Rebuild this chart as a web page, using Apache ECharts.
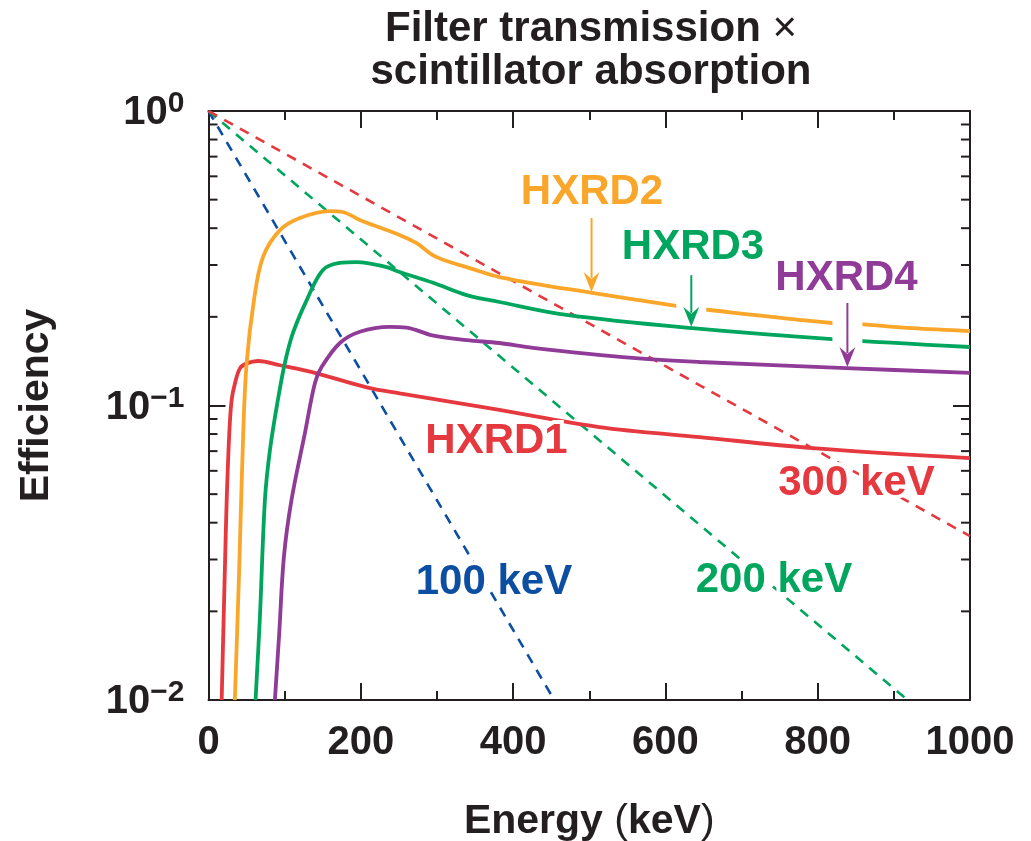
<!DOCTYPE html>
<html>
<head>
<meta charset="utf-8">
<title>Filter transmission × scintillator absorption</title>
<script src="https://cdn.jsdelivr.net/npm/echarts@6/dist/echarts.min.js"></script>
<style>
  html, body { margin: 0; padding: 0; background: #ffffff; }
  #chart { width: 1031px; height: 841px; }
</style>
</head>
<body>
<div id="chart"></div>
<script>
// ---- data: energy (keV) vs efficiency ----
const energyTicks = [0, 200, 400, 600, 800, 1000];
const decadeTicks = [0.01, 0.1, 1];
const yMinorTicks = [0.02, 0.03, 0.04, 0.05, 0.06, 0.07, 0.08, 0.09,
                     0.2, 0.3, 0.4, 0.5, 0.6, 0.7, 0.8, 0.9];

// Filter transmission x scintillator absorption for each unit
const hxrd1 = [[17.3, 0.01], [19.4, 0.0168], [21.6, 0.0284], [23.9, 0.0478], [27.3, 0.0805],
  [30.4, 0.1045], [34.8, 0.119], [41.3, 0.1337], [50.1, 0.139], [65.3, 0.1416],
  [93.8, 0.137], [142, 0.1286], [207.5, 0.1153], [251, 0.110], [382, 0.0966],
  [513, 0.0845], [645, 0.0781], [793, 0.0717], [1000, 0.0663]];

const hxrd2 = [[34.6, 0.01], [40.4, 0.0283], [45.6, 0.0806], [50.1, 0.1394], [59.7, 0.228],
  [71.5, 0.319], [93.8, 0.394], [120, 0.433], [159, 0.457], [176, 0.454],
  [198.7, 0.4265], [215.7, 0.410], [251, 0.379], [273.4, 0.356], [294.5, 0.324],
  [316.7, 0.307], [339, 0.295], [382, 0.273], [504, 0.241], [614, 0.218],
  [658, 0.211], [819, 0.1906], [854, 0.189], [924, 0.183], [1000, 0.179]];

const hxrd3 = [[61.8, 0.01], [67.5, 0.0191], [74.1, 0.0478], [80.7, 0.0706], [91.1, 0.1044],
  [100.3, 0.1394], [110.8, 0.176], [129, 0.228], [150, 0.288], [172, 0.305],
  [195, 0.307], [234, 0.295], [251, 0.284], [295, 0.261], [339, 0.237],
  [382, 0.2246], [470, 0.203], [635, 0.183], [819, 0.168], [1000, 0.158]];

const hxrd4 = [[87.2, 0.01], [92.9, 0.0169], [99, 0.0306], [109, 0.0478], [126.6, 0.0806],
  [139.7, 0.119], [148.5, 0.135], [172.5, 0.163], [198.7, 0.178], [238, 0.185],
  [260, 0.184], [294, 0.173], [339, 0.1668], [382, 0.163], [426, 0.157],
  [557, 0.145], [645, 0.1405], [837, 0.134], [1000, 0.129]];

// Transmission through a filter at fixed photon energies (straight on a log scale)
const atten100 = [[0, 1], [454, 0.01]];
const atten200 = [[0, 1], [918, 0.01]];
const atten300 = [[0, 1], [1000, 0.036]];

// Pointer arrows: energy, top of shaft, tip (efficiency), unit index
const arrowRows = [[503, 0.433, 0.243, 1], [634, 0.277, 0.185, 2], [839, 0.223, 0.135, 3]];

// ---- styling ----
const INK = '#231f20';
const FONT = "'Liberation Sans', Arial, Helvetica, sans-serif";
const COLORS = ['#e5383f', '#f9a62a', '#00a65d', '#8f3b97', '#0b4ea2'];

const chart = echarts.init(document.getElementById('chart'), null, { renderer: 'canvas' });

const gridBox = { left: 208.5, right: 61, top: 111, bottom: 141 };

function xAxisDef(pos) {
  const bottom = pos === 'bottom';
  return {
    type: 'value', position: pos, min: energyTicks[0], max: energyTicks[energyTicks.length - 1],
    interval: energyTicks[1] - energyTicks[0],
    axisLine: { show: true, onZero: false, lineStyle: { color: INK, width: 2 } },
    axisTick: { show: true, inside: true, length: 17, lineStyle: { color: INK, width: 2 } },
    minorTick: { show: true, splitNumber: 2, length: 9, lineStyle: { color: INK, width: 2 } },
    splitLine: { show: false },
    minorSplitLine: { show: false },
    axisLabel: {
      show: bottom, margin: 23, color: INK, fontFamily: FONT, fontSize: 40, fontWeight: 'bold',
      showMinLabel: true, showMaxLabel: true,
      formatter: function (v) { return String(v); }
    },
    name: bottom ? '{b|Energy }{p|(}{b|keV}{p|)}' : '',
    nameLocation: 'middle', nameGap: 101,
    nameTextStyle: {
      rich: {
        b: { fontFamily: FONT, fontSize: 41, fontWeight: 'bold', color: INK },
        p: { fontFamily: FONT, fontSize: 41, fontWeight: 'normal', color: INK }
      }
    }
  };
}

function yAxisDef(pos) {
  const left = pos === 'left';
  return {
    type: 'log', logBase: 10, position: pos, min: decadeTicks[0], max: decadeTicks[decadeTicks.length - 1],
    axisLine: { show: true, onZero: false, lineStyle: { color: INK, width: 2 } },
    axisTick: { show: true, inside: true, length: 17, lineStyle: { color: INK, width: 2 } },
    minorTick: { show: false },
    splitLine: { show: false },
    axisLabel: {
      show: left, margin: 24, showMinLabel: true, showMaxLabel: true,
      formatter: function (v) {
        const e = Math.round(Math.log10(v));
        return '{b|10}{s|' + (e < 0 ? '\u2212' + (-e) : String(e)) + '}';
      },
      rich: {
        b: { fontFamily: FONT, fontSize: 40, fontWeight: 'bold', color: INK, lineHeight: 44, verticalAlign: 'bottom' },
        s: { fontFamily: FONT, fontSize: 30, fontWeight: 'bold', color: INK, lineHeight: 30, verticalAlign: 'top' }
      }
    },
    name: left ? 'Efficiency' : '',
    nameLocation: 'middle', nameGap: 151, nameRotate: 90,
    nameTextStyle: { fontFamily: FONT, fontSize: 41, fontWeight: 'bold', color: INK }
  };
}

function lineSeries(name, data, color, dashed) {
  return {
    name: name, type: 'line', data: data, xAxisIndex: 0, yAxisIndex: 0,
    showSymbol: false, symbol: 'none', clip: true,
    smooth: dashed ? false : 0.35,
    lineStyle: dashed
      ? { color: color, width: 2.6, type: [10, 8] }
      : { color: color, width: 3.8 },
    z: dashed ? 2 : 3,
    silent: true
  };
}

// small log ticks on the left and right frame
const minorTickSeries = {
  type: 'custom', xAxisIndex: 0, yAxisIndex: 0, silent: true, z: 4,
  data: yMinorTicks.map(v => [0, v]),
  renderItem: function (params, api) {
    const cs = params.coordSys;
    const p = api.coord([0, api.value(1)]);
    const st = { stroke: INK, lineWidth: 2 };
    return {
      type: 'group',
      children: [
        { type: 'line', shape: { x1: cs.x, y1: p[1], x2: cs.x + 9, y2: p[1] }, style: st },
        { type: 'line', shape: { x1: cs.x + cs.width - 9, y1: p[1], x2: cs.x + cs.width, y2: p[1] }, style: st }
      ]
    };
  }
};

// downward pointer arrows with a white knockout behind the shaft
const arrowSeries = {
  type: 'custom', xAxisIndex: 0, yAxisIndex: 0, silent: true, z: 6,
  data: arrowRows,
  renderItem: function (params, api) {
    const top = api.coord([api.value(0), api.value(1)]);
    const tip = api.coord([api.value(0), api.value(2)]);
    const color = COLORS[api.value(3)];
    const x = top[0];
    const headLen = 20, halfW = 8;
    return {
      type: 'group',
      children: [
        { type: 'rect', shape: { x: x - 15, y: top[1], width: 30, height: tip[1] - top[1] - 12 },
          style: { fill: '#ffffff' } },
        { type: 'line', shape: { x1: x, y1: top[1], x2: x, y2: tip[1] - headLen + 6 },
          style: { stroke: color, lineWidth: 2 } },
        { type: 'polygon',
          shape: { points: [[x, tip[1]], [x - halfW, tip[1] - headLen], [x, tip[1] - headLen + 7], [x + halfW, tip[1] - headLen]] },
          style: { fill: color } }
      ]
    };
  }
};

// curve labels, with a white halo that breaks the dashed lines behind them
function label(text, cx, cy, color) {
  return {
    type: 'text', x: cx, y: cy, z: 10, silent: true,
    style: {
      text: text, fill: color, font: "bold 42px " + FONT,
      stroke: '#ffffff', lineWidth: 8,
      align: 'center', verticalAlign: 'middle', textAlign: 'center', textVerticalAlign: 'middle'
    }
  };
}

const option = {
  backgroundColor: '#ffffff',
  animation: false,
  grid: Object.assign({ containLabel: false, outerBoundsMode: 'none', show: false }, gridBox),
  xAxis: [xAxisDef('bottom'), xAxisDef('top')],
  yAxis: [yAxisDef('left'), yAxisDef('right')],
  series: [
    lineSeries('100 keV', atten100, COLORS[4], true),
    lineSeries('200 keV', atten200, COLORS[2], true),
    lineSeries('300 keV', atten300, COLORS[0], true),
    lineSeries('HXRD1', hxrd1, COLORS[0], false),
    lineSeries('HXRD2', hxrd2, COLORS[1], false),
    lineSeries('HXRD3', hxrd3, COLORS[2], false),
    lineSeries('HXRD4', hxrd4, COLORS[3], false),
    minorTickSeries,
    arrowSeries
  ],
  graphic: [
    {
      type: 'text', x: 591, y: 8, z: 10, silent: true,
      style: {
        text: '{t|Filter transmission }{x|\u00d7}\n{t|scintillator absorption}',
        align: 'center', verticalAlign: 'top', textAlign: 'center', textVerticalAlign: 'top',
        rich: {
          t: { fontFamily: FONT, fontSize: 42, fontWeight: 'bold', fill: INK, color: INK, lineHeight: 43 },
          x: { fontFamily: FONT, fontSize: 42, fontWeight: 'normal', fill: INK, color: INK, lineHeight: 43 }
        }
      }
    },
    label('HXRD2', 592, 192.5, COLORS[1]),
    label('HXRD3', 693, 247, COLORS[2]),
    label('HXRD4', 846.5, 278.5, COLORS[3]),
    label('HXRD1', 496.5, 441.5, COLORS[0]),
    label('300 keV', 856.5, 483.5, COLORS[0]),
    label('100 keV', 494, 582.5, COLORS[4]),
    label('200 keV', 774, 580.5, COLORS[2])
  ]
};

chart.setOption(option);
</script>
</body>
</html>
